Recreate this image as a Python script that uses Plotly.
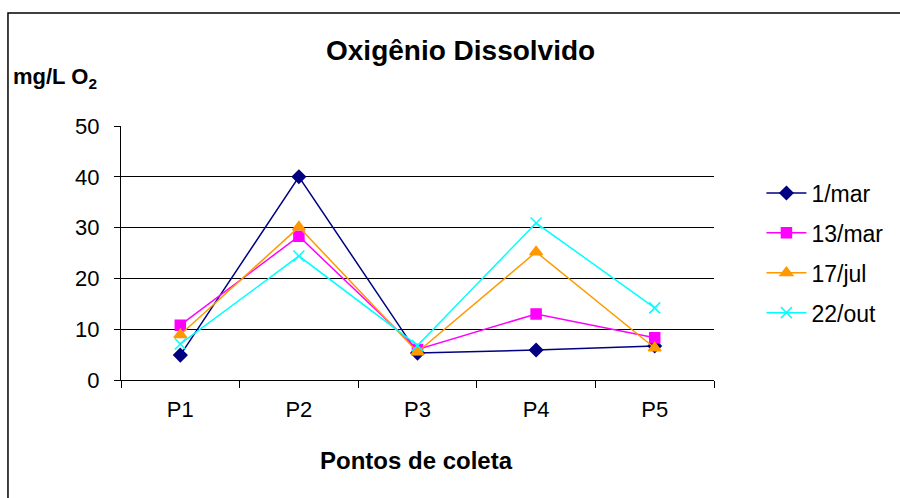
import plotly.graph_objects as go

pontos = ["P1", "P2", "P3", "P4", "P5"]
mar_01 = [4.9, 40.0, 5.3, 5.9, 6.7]
mar_13 = [10.8, 28.3, 6.0, 13.0, 8.3]
jul_17 = [8.9, 30.1, 5.5, 25.2, 6.3]
out_22 = [7.1, 24.4, 6.8, 30.9, 14.2]

series = [
    ("1/mar", mar_01, "#000080", "diamond", 10),
    ("13/mar", mar_13, "#FF00FF", "square", 10),
    ("17/jul", jul_17, "#FF9900", "triangle-up", 11),
    ("22/out", out_22, "#00FFFF", "x-thin", 11),
]

font = "Liberation Sans, Arial, sans-serif"

fig = go.Figure()
for name, vals, color, symbol, size in series:
    fig.add_trace(go.Scatter(
        x=pontos,
        y=vals,
        mode="lines+markers",
        name=name,
        legendgroup=name,
        line=dict(color=color, width=1.5),
        marker=dict(symbol=symbol, size=size, color=color,
                    line=dict(color=color, width=1.5)),
    ))

# moldura externa do gráfico
fig.add_shape(type="rect", xref="paper", yref="paper",
              x0=-0.1906, x1=1.5, y0=-0.6, y1=1.4449,
              line=dict(color="black", width=1.5), layer="below")

fig.add_annotation(text="<b>Oxigênio Dissolvido</b>", xref="paper", yref="paper",
                   x=0.573, y=1.299, xanchor="center", yanchor="middle",
                   showarrow=False, font=dict(size=28, color="black", family=font))
fig.add_annotation(text="<b>mg/L O<sub>2</sub></b>", xref="paper", yref="paper",
                   x=-0.186, y=1.189, xanchor="left", yanchor="middle",
                   showarrow=False, font=dict(size=22, color="black", family=font))
fig.add_annotation(text="<b>Pontos de coleta</b>", xref="paper", yref="paper",
                   x=0.499, y=-0.315, xanchor="center", yanchor="middle",
                   showarrow=False, font=dict(size=24, color="black", family=font))

fig.update_layout(
    width=900, height=498,
    margin=dict(l=121, r=186, t=126, b=118, autoexpand=False),
    paper_bgcolor="white",
    plot_bgcolor="white",
    font=dict(family=font, size=22, color="black"),
    showlegend=True,
    legend=dict(x=1.08, y=0.5, xanchor="left", yanchor="middle",
                font=dict(size=23), tracegroupgap=7, itemwidth=40,
                bgcolor="rgba(0,0,0,0)"),
    xaxis=dict(
        type="category",
        range=[-0.5, 4.5],
        tickson="boundaries",
        ticks="outside", ticklen=7, tickcolor="black",
        showline=True, linecolor="black", linewidth=1,
        showgrid=False,
        ticklabelstandoff=10,
        tickfont=dict(size=22),
    ),
    yaxis=dict(
        range=[0, 50], dtick=10,
        ticks="outside", ticklen=6, tickcolor="black",
        showline=True, linecolor="black", linewidth=1,
        showgrid=True, gridcolor="black", gridwidth=1,
        zeroline=False,
        ticklabelstandoff=10,
        tickfont=dict(size=22),
    ),
)

fig.write_html("out.html", config={"displayModeBar": False},
               post_script="document.body.style.margin='0';")
